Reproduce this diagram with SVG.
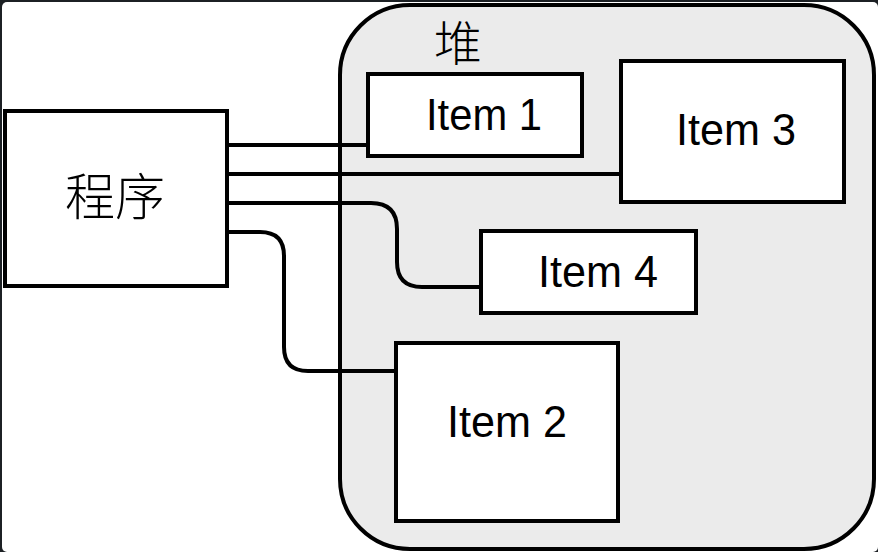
<svg xmlns="http://www.w3.org/2000/svg" width="878" height="552" viewBox="0 0 878 552">
<style>
.box{fill:#fff;stroke:#000;stroke-width:4}
.heap{fill:#ebebeb;stroke:#000;stroke-width:4}
.lbl{font-family:"Liberation Sans",Arial,sans-serif;font-size:44px;fill:#000}
.cjk{font-family:"Noto Sans CJK SC",sans-serif;font-weight:300;fill:#000}
.wire{fill:none;stroke:#000;stroke-width:4}
</style>
<rect x="0" y="0" width="878" height="552" fill="#1c2024"/>
<rect x="2" y="2" width="876" height="550" rx="5" fill="#fff"/>
<g id="heap">
<rect class="heap" x="340" y="5" width="534" height="544" rx="70" ry="70"/>
<text class="cjk" x="458" y="61" font-size="48" text-anchor="middle">堆</text>
</g>
<g id="program">
<rect class="box" x="5" y="111" width="222" height="175"/>
<text class="cjk" x="115" y="215" font-size="50" text-anchor="middle">程序</text>
</g>
<g id="connectors">
<path class="wire" d="M227,145 H368"/>
<path class="wire" d="M227,174 H621"/>
<path class="wire" d="M227,203 H371 Q397,203 397,229 V262 Q397,287 422,287 H481"/>
<path class="wire" d="M227,232 H260 Q284,232 284,256 V347 Q284,371 308,371 H396"/>
</g>
<g id="item1">
<rect class="box" x="368" y="74" width="214" height="82"/>
<text class="lbl" x="426" y="130" textLength="116" lengthAdjust="spacingAndGlyphs">Item 1</text>
</g>
<g id="item3">
<rect class="box" x="621" y="61" width="223" height="141"/>
<text class="lbl" x="676" y="145" textLength="120" lengthAdjust="spacingAndGlyphs">Item 3</text>
</g>
<g id="item4">
<rect class="box" x="481" y="231" width="215" height="82"/>
<text class="lbl" x="538" y="287" textLength="120" lengthAdjust="spacingAndGlyphs">Item 4</text>
</g>
<g id="item2">
<rect class="box" x="396" y="343" width="222" height="178"/>
<text class="lbl" x="447" y="437" textLength="120" lengthAdjust="spacingAndGlyphs">Item 2</text>
</g>
</svg>
